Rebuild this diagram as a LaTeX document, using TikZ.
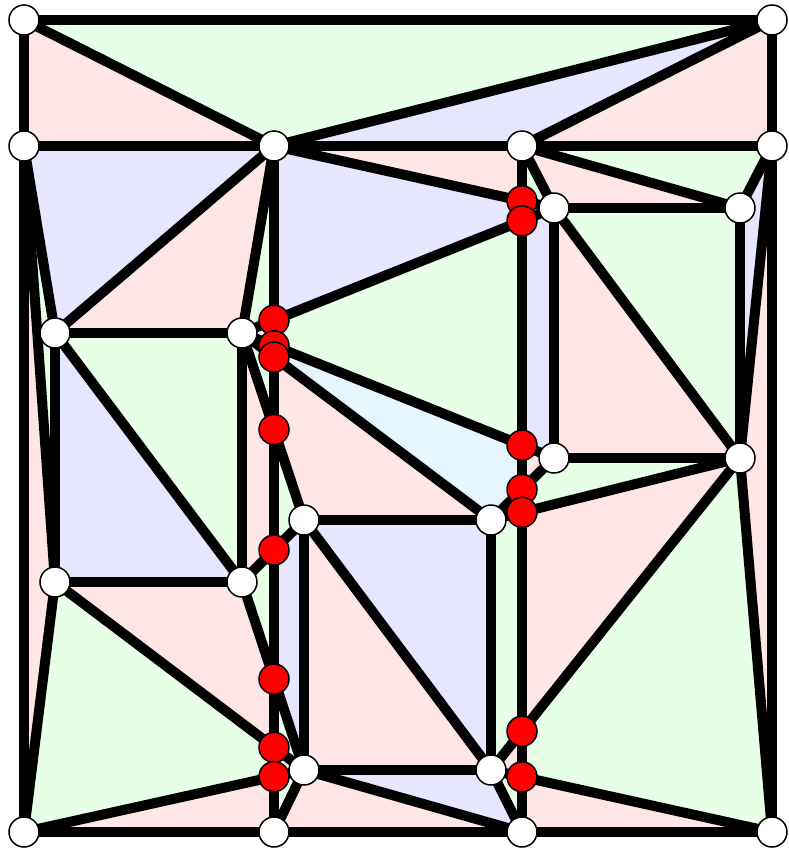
\documentclass[tikz,border=0pt]{standalone}
\pgfdeclarelayer{fills}
\pgfdeclarelayer{edges}
\pgfsetlayers{fills,edges,main}
\definecolor{pinkF}{RGB}{255,230,230}
\definecolor{greenF}{RGB}{230,255,230}
\definecolor{blueF}{RGB}{230,230,255}
\definecolor{cyanF}{RGB}{230,246,255}
\tikzset{
  wnode/.style={circle, draw=black, line width=1.5pt, fill=white, minimum size=30pt, inner sep=0pt},
  rnode/.style={circle, draw=black, line width=1.5pt, fill=red, minimum size=30pt, inner sep=0pt},
  edgeline/.style={line width=10pt, line cap=round, line join=round, draw=black}
}
\begin{document}
\begin{tikzpicture}[x=1pt,y=-1pt]
\useasboundingbox (0,0) rectangle (788,849);
% red nodes
\node[rnode] (R4) at (522,200.9) {};
\node[rnode] (R5) at (522,220.8) {};
\node[rnode] (R1) at (274,320.2) {};
\node[rnode] (R2) at (274,345.8) {};
\node[rnode] (R3) at (274,357.0) {};
\node[rnode] (R9) at (274,429.5) {};
\node[rnode] (R6) at (522,445.2) {};
\node[rnode] (R7) at (522,489.5) {};
\node[rnode] (R8) at (522,512.3) {};
\node[rnode] (R10) at (274,550.0) {};
\node[rnode] (R11) at (274,679.0) {};
\node[rnode] (R14) at (522,731.2) {};
\node[rnode] (R12) at (274,747.4) {};
\node[rnode] (R13) at (274,776.6) {};
\node[rnode] (R15) at (522,776.8) {};
% white nodes
\node[wnode] (A1) at (24,20) {};
\node[wnode] (A2) at (772,20) {};
\node[wnode] (B1) at (24,146) {};
\node[wnode] (B2) at (274,146) {};
\node[wnode] (B3) at (522,146) {};
\node[wnode] (B4) at (772,146) {};
\node[wnode] (C1) at (554,208) {};
\node[wnode] (C2) at (740,208) {};
\node[wnode] (D1) at (55,333) {};
\node[wnode] (D2) at (242,333) {};
\node[wnode] (E1) at (554,458) {};
\node[wnode] (E2) at (740,458) {};
\node[wnode] (F1) at (304,520) {};
\node[wnode] (F2) at (491,520) {};
\node[wnode] (G1) at (55,582) {};
\node[wnode] (G2) at (242,582) {};
\node[wnode] (H1) at (304,770) {};
\node[wnode] (H2) at (491,770) {};
\node[wnode] (I1) at (24,832) {};
\node[wnode] (I2) at (274,832) {};
\node[wnode] (I3) at (522,832) {};
\node[wnode] (I4) at (772,832) {};
\begin{pgfonlayer}{fills}
\fill[pinkF] (A1.center)--(B1.center)--(B2.center)--cycle;
\fill[greenF] (A1.center)--(A2.center)--(B2.center)--cycle;
\fill[blueF] (A2.center)--(B2.center)--(B3.center)--cycle;
\fill[pinkF] (A2.center)--(B3.center)--(B4.center)--cycle;
\fill[greenF] (B3.center)--(B4.center)--(C2.center)--cycle;
\fill[pinkF] (B3.center)--(C1.center)--(C2.center)--cycle;
\fill[pinkF] (B2.center)--(B3.center)--(R4.center)--cycle;
\fill[greenF] (B3.center)--(C1.center)--(R4.center)--cycle;
\fill[greenF] (B2.center)--(R1.center)--(D2.center)--cycle;
\fill[blueF] (B2.center)--(R4.center)--(R5.center)--(R1.center)--cycle;
\fill[pinkF] (R4.center)--(C1.center)--(R5.center)--cycle;
\fill[pinkF] (D2.center)--(R1.center)--(R2.center)--cycle;
\fill[greenF] (R1.center)--(R5.center)--(R6.center)--(R2.center)--cycle;
\fill[blueF] (R5.center)--(C1.center)--(E1.center)--(R6.center)--cycle;
\fill[blueF] (D2.center)--(R2.center)--(R3.center)--cycle;
\fill[cyanF] (R2.center)--(R6.center)--(R7.center)--(F2.center)--(R3.center)--cycle;
\fill[pinkF] (R6.center)--(E1.center)--(R7.center)--cycle;
\fill[greenF] (D2.center)--(R3.center)--(R9.center)--cycle;
\fill[pinkF] (R3.center)--(F2.center)--(F1.center)--(R9.center)--cycle;
\fill[pinkF] (D2.center)--(R9.center)--(R10.center)--(G2.center)--cycle;
\fill[greenF] (R9.center)--(F1.center)--(R10.center)--cycle;
\fill[greenF] (G2.center)--(R10.center)--(R11.center)--cycle;
\fill[blueF] (R10.center)--(F1.center)--(H1.center)--(R11.center)--cycle;
\fill[pinkF] (G1.center)--(G2.center)--(R11.center)--(R12.center)--cycle;
\fill[greenF] (R11.center)--(H1.center)--(R12.center)--cycle;
\fill[greenF] (I1.center)--(G1.center)--(R12.center)--(R13.center)--cycle;
\fill[pinkF] (R12.center)--(H1.center)--(R13.center)--cycle;
\fill[pinkF] (I1.center)--(I2.center)--(R13.center)--cycle;
\fill[greenF] (R13.center)--(H1.center)--(I2.center)--cycle;
\fill[pinkF] (F1.center)--(H1.center)--(H2.center)--cycle;
\fill[blueF] (F1.center)--(F2.center)--(H2.center)--cycle;
\fill[pinkF] (F2.center)--(R7.center)--(R8.center)--cycle;
\fill[greenF] (R7.center)--(E1.center)--(E2.center)--(R8.center)--cycle;
\fill[greenF] (F2.center)--(R8.center)--(R14.center)--(H2.center)--cycle;
\fill[pinkF] (R8.center)--(E2.center)--(R14.center)--cycle;
\fill[pinkF] (H2.center)--(R14.center)--(R15.center)--cycle;
\fill[greenF] (R14.center)--(E2.center)--(I4.center)--(R15.center)--cycle;
\fill[greenF] (H2.center)--(R15.center)--(I3.center)--cycle;
\fill[pinkF] (R15.center)--(I4.center)--(I3.center)--cycle;
\fill[blueF] (H1.center)--(H2.center)--(I3.center)--cycle;
\fill[pinkF] (H1.center)--(I2.center)--(I3.center)--cycle;
\fill[pinkF] (E2.center)--(I4.center)--(B4.center)--cycle;
\fill[blueF] (B4.center)--(C2.center)--(E2.center)--cycle;
\fill[greenF] (C1.center)--(C2.center)--(E2.center)--cycle;
\fill[pinkF] (C1.center)--(E1.center)--(E2.center)--cycle;
\fill[greenF] (D1.center)--(D2.center)--(G2.center)--cycle;
\fill[blueF] (D1.center)--(G1.center)--(G2.center)--cycle;
\fill[greenF] (B1.center)--(D1.center)--(G1.center)--cycle;
\fill[pinkF] (B1.center)--(G1.center)--(I1.center)--cycle;
\fill[blueF] (B1.center)--(B2.center)--(D1.center)--cycle;
\fill[pinkF] (B2.center)--(D1.center)--(D2.center)--cycle;
\end{pgfonlayer}
\begin{pgfonlayer}{edges}
\foreach \a/\b in {A1/A2, A1/B1, A1/B2, A2/B2, A2/B3, A2/B4, B1/B2, B2/B3, B3/B4,
  B1/D1, B1/G1, B1/I1, B2/D1, B2/D2, B2/C1, B3/C1, B3/C2, B4/C2, C1/C2, B4/E2,
  C2/E2, C1/E2, C1/E1, E1/E2, D1/D2, D1/G1, D1/G2, D2/G2, D2/C1, D2/E1, D2/F2,
  D2/F1, F2/E1, F2/E2, F1/F2, G2/F1, G1/G2, G1/H1, G2/H1, G1/I1, I1/H1, F1/H1,
  F1/H2, F2/H2, H1/H2, H2/E2, E2/I4, B4/I4, H2/I4, H1/I2, H1/I3, H2/I3, I1/I2,
  I2/I3, I3/I4, B2/I2, B3/I3}
  \draw[edgeline] (\a.center) -- (\b.center);
\end{pgfonlayer}
\end{tikzpicture}
\end{document}
